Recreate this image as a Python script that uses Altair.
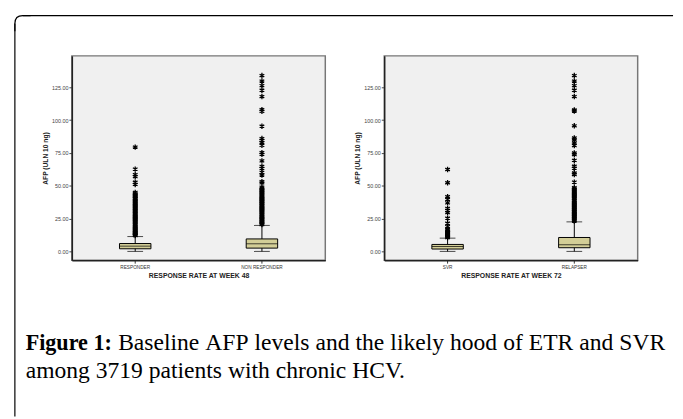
import altair as alt
import pandas as pd

# ---------------- data ----------------
groups_48 = ["RESPONDER", "NON RESPONDER"]
lo_48 = [0.0, 0.0]
q1_48 = [2.0, 2.5]
med_48 = [4.0, 5.8]
q3_48 = [6.0, 9.5]
hi_48 = [11.3, 19.8]

groups_72 = ["SVR", "RELAPSER"]
lo_72 = [0.0, 0.0]
q1_72 = [1.8, 2.8]
med_72 = [3.8, 5.1]
q3_72 = [5.3, 10.6]
hi_72 = [10.1, 22.5]

out_responder = [79.5, 62.7, 58.5, 57.0, 52.7, 51.0, 45.0, 44.0, 43.0, 42.2, 41.5,
                 40.5, 39.8, 39.0, 38.2, 37.5, 36.6, 35.8, 35.0, 34.1, 33.3, 32.5,
                 31.6, 30.8, 30.0, 29.1, 28.3, 27.5, 26.6, 25.8, 25.0, 24.1, 23.3,
                 22.5, 21.6, 20.8, 20.0, 19.1, 18.3, 17.5, 16.6, 15.8, 15.0, 14.4,
                 13.8, 13.2, 12.6, 12.1]
out_nonresponder = [134.0, 129.8, 126.3, 122.8, 118.0, 108.0, 106.7, 95.4, 86.0, 84.6,
                    82.8, 80.8, 75.3, 74.0, 69.0, 64.8, 63.3, 60.2, 58.2, 53.2, 52.2,
                    49.0, 48.0, 47.1, 46.3, 45.4, 44.6, 43.7, 42.9, 42.0, 41.2, 40.3,
                    39.5, 38.6, 37.8, 36.9, 36.1, 35.2, 34.4, 33.5, 32.7, 31.8, 31.0,
                    30.1, 29.3, 28.4, 27.6, 26.7, 25.9, 25.0, 24.2, 23.3, 22.5, 21.7,
                    21.0, 20.4]
out_svr = [62.4, 52.3, 41.7, 39.6, 37.0, 32.8, 31.3, 29.5, 25.3, 21.5, 18.9, 16.9,
           16.2, 15.5, 14.8, 14.1, 13.4, 12.8, 12.2, 11.6, 11.0, 10.5]
out_relapser = [134.0, 129.8, 126.3, 122.8, 118.0, 107.8, 107.0, 95.7, 86.4, 85.0,
                82.6, 80.6, 75.0, 73.7, 69.4, 64.9, 63.4, 59.8, 58.6, 52.8,
                48.5, 47.6, 46.8, 45.9, 45.1, 44.2, 43.4, 42.5, 41.7, 40.8, 40.0,
                39.1, 38.3, 37.4, 36.6, 35.7, 34.9, 34.0, 33.2, 32.3, 31.5, 30.6,
                29.8, 28.9, 28.1, 27.2, 26.4, 25.5, 24.7, 23.8, 23.1]

y_ticks = [0, 25, 50, 75, 100, 125]
y_title = "AFP (ULN 10 ng)"
x_title_48 = "RESPONSE RATE AT WEEK 48"
x_title_72 = "RESPONSE RATE AT WEEK 72"

caption_bold = "Figure 1:"
caption_line1 = "Baseline AFP levels and the likely hood of ETR and SVR"
caption_line2 = "among 3719 patients with chronic HCV."

# ---------------- styling ----------------
BOX = "#d3ce97"
STAR = "M0,-1L0,1M-0.87,-0.5L0.87,0.5M-0.87,0.5L0.87,-0.5"
SANS = "Liberation Sans"
SERIF = "Liberation Serif"
W, H = 258, 208
Y_DOMAIN = [-6.7, 149]
CAP_BOLD = 22.5
CAP_SIZE = 24


def panel(groups, lo, q1, med, q3, hi, outs, xtitle):
    stats = pd.DataFrame({"group": groups, "lo": lo, "q1": q1, "med": med,
                          "q3": q3, "hi": hi})
    og, ov = [], []
    for g, vals in zip(groups, outs):
        og += [g] * len(vals)
        ov += vals
    odf = pd.DataFrame({"group": og, "value": ov})

    x = alt.X("group:N", sort=groups,
              scale=alt.Scale(paddingInner=0, paddingOuter=0),
              axis=alt.Axis(title=xtitle, labelAngle=0, labelFontSize=4.8,
                            labelColor="#333", labelFont=SANS, tickSize=3,
                            tickColor="#333", labelPadding=1,
                            titleFont=SANS, titleFontSize=7, titleFontWeight="bold",
                            titleColor="#222", titlePadding=3,
                            domainColor="#222", domainWidth=1.5))
    yscale = alt.Scale(domain=Y_DOMAIN, nice=False, zero=False)
    yaxis = alt.Axis(values=y_ticks, format=".2f", title=y_title, grid=False,
                     labelFontSize=5.5, labelColor="#444", labelFont=SANS,
                     tickSize=3, tickColor="#444", labelPadding=1,
                     titleFont=SANS, titleFontSize=6.8, titleFontWeight="bold",
                     titleColor="#222", titlePadding=3,
                     domainColor="#222", domainWidth=1.5)
    base = alt.Chart(stats).encode(x=x)
    whisk = base.mark_rule(color="black", strokeWidth=1).encode(
        y=alt.Y("lo:Q", scale=yscale, axis=yaxis), y2="hi:Q")
    box = base.mark_bar(size=32, fill=BOX, stroke="black", strokeWidth=1).encode(
        y=alt.Y("q1:Q"), y2="q3:Q")
    medt = base.mark_tick(size=32, thickness=1, color="black").encode(y="med:Q")
    cap_lo = base.mark_tick(size=16, thickness=1, color="black").encode(y="lo:Q")
    cap_hi = base.mark_tick(size=16, thickness=1, color="black").encode(y="hi:Q")
    pts = alt.Chart(odf).mark_point(shape=STAR, size=30, filled=False,
                                    stroke="black", strokeWidth=1.3,
                                    opacity=1).encode(
        x=alt.X("group:N", sort=groups), y=alt.Y("value:Q"))
    return alt.layer(whisk, box, medt, cap_lo, cap_hi, pts).properties(
        width=W, height=H)


one = pd.DataFrame({"k": [0]})

# frame of the figure box (top + left edges, rounded corner), relative to panel 1
frame_top = alt.Chart(one).mark_rule(color="black", strokeWidth=1.2).encode(
    x=alt.value(-50), x2=alt.value(612), y=alt.value(-41), y2=alt.value(-41))
frame_left = alt.Chart(one).mark_rule(color="black", strokeWidth=1.2).encode(
    x=alt.value(-58), x2=alt.value(-58), y=alt.value(-33), y2=alt.value(367))
frame_corner = alt.Chart(one).mark_point(
    shape="M-1,1L-1,0Q-1,-1,0,-1L1,-1", size=256, filled=False,
    stroke="black", strokeWidth=1.2, opacity=1).encode(
    x=alt.value(-50), y=alt.value(-33))

# Times-metric advance widths (per 1000 em) to justify the first caption line
TIMES = {"B": 667, "a": 444, "s": 389, "e": 444, "l": 278, "i": 278, "n": 500,
         "A": 722, "F": 556, "P": 556, "v": 500, "d": 500, "t": 278, "h": 500,
         "k": 500, "y": 500, "o": 500, "f": 333, "E": 611, "T": 611, "R": 667,
         "S": 556, "V": 722}
BOLD_W = (611 + 278 + 500 + 556 + 444 + 444 + 250 + 500 + 333) / 1000 * CAP_BOLD

cap_x0 = -47          # left edge of the caption (relative to panel 1)
cap_x1 = 604          # right edge of the justified first line
cap_y1, cap_y2 = 299, 328

caption_layers = [
    alt.Chart(one).mark_text(align="left", baseline="alphabetic", font=SERIF,
                             fontSize=CAP_BOLD, fontWeight="bold", color="black").encode(
        x=alt.value(cap_x0), y=alt.value(cap_y1), text=alt.value(caption_bold))
]
words = caption_line1.split(" ")
wwidths = [sum(TIMES.get(c, 500) for c in w) / 1000 * CAP_SIZE for w in words]
start = cap_x0 + BOLD_W + 0.25 * CAP_SIZE
gap = (cap_x1 - start - sum(wwidths)) / (len(words) - 1)
xpos = start
for w, ww in zip(words, wwidths):
    caption_layers.append(
        alt.Chart(one).mark_text(align="left", baseline="alphabetic", font=SERIF,
                                 fontSize=CAP_SIZE, color="black").encode(
            x=alt.value(round(xpos, 2)), y=alt.value(cap_y1), text=alt.value(w)))
    xpos += ww + gap
caption_layers.append(
    alt.Chart(one).mark_text(align="left", baseline="alphabetic", font=SERIF,
                             fontSize=CAP_SIZE, color="black").encode(
        x=alt.value(cap_x0), y=alt.value(cap_y2), text=alt.value(caption_line2)))

p1 = panel(groups_48, lo_48, q1_48, med_48, q3_48, hi_48,
           [out_responder, out_nonresponder], x_title_48)
p1 = alt.layer(p1, frame_top, frame_left, frame_corner, *caption_layers)
p2 = panel(groups_72, lo_72, q1_72, med_72, q3_72, hi_72,
           [out_svr, out_relapser], x_title_72)

chart = alt.hconcat(p1, p2, spacing=60, bounds="flush").configure_view(
    fill="#f0f0f0", stroke="#777", strokeWidth=1.5
).properties(
    padding={"left": 3, "top": 0, "right": 0, "bottom": 0},
    background="white"
)

chart.save("out.html", embed_options={"renderer": "svg", "actions": False})
